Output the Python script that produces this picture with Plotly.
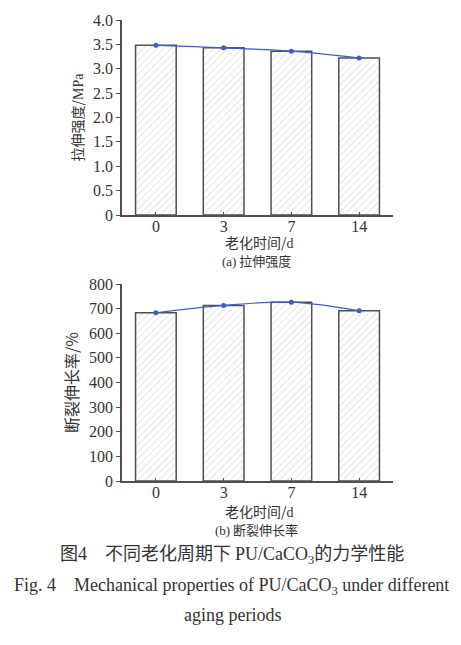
import plotly.graph_objects as go

# Data
aging_days = ["0", "3", "7", "14"]
tensile_strength = [3.48, 3.43, 3.36, 3.22]
elongation = [683, 713, 726, 691]

W, H = 461, 645
SERIF = "Liberation Serif"
CJK = "Noto Sans CJK SC"

def py(px):
    return 1 - px / H

def ser(t):
    return f"<span style='font-family:{SERIF}'>{t}</span>"

fig = go.Figure()

bar_style = dict(
    marker=dict(color="white",
                line=dict(color="#505050", width=1.5),
                pattern=dict(shape="/", fgcolor="#a0a0a0", bgcolor="white", size=5, solidity=0.15)),
    width=0.6, showlegend=False,
)
line_style = dict(mode="lines+markers",
                  line=dict(color="#3a60c4", width=1.2, shape="spline"),
                  marker=dict(color="#3a60c4", size=5), showlegend=False)

fig.add_trace(go.Bar(x=aging_days, y=tensile_strength, xaxis="x", yaxis="y", **bar_style))
fig.add_trace(go.Scatter(x=aging_days, y=tensile_strength, xaxis="x", yaxis="y", **line_style))
fig.add_trace(go.Bar(x=aging_days, y=elongation, xaxis="x2", yaxis="y2", **bar_style))
fig.add_trace(go.Scatter(x=aging_days, y=elongation, xaxis="x2", yaxis="y2", **line_style))

xdom = [122 / W, 393 / W]
common_x = dict(type="category", range=[-0.5, 3.5], showline=True, linecolor="#505050", linewidth=1.5,
                ticks="inside", ticklen=3, tickcolor="#505050", showgrid=False, zeroline=False,
                automargin=False, ticklabelstandoff=-4,
                tickfont=dict(family=SERIF, size=16, color="#333"), domain=xdom)
common_y = dict(showline=True, linecolor="#505050", linewidth=1.5, ticks="outside", ticklen=4,
                tickcolor="#505050", showgrid=False, zeroline=False, automargin=False,
                tickfont=dict(family=SERIF, size=16, color="#333"))

fig.update_layout(
    width=W, height=H, margin=dict(l=0, r=0, t=0, b=0),
    paper_bgcolor="white", plot_bgcolor="white", bargap=0.4,
    xaxis=dict(common_x, anchor="y"),
    yaxis=dict(common_y, anchor="x", domain=[py(215), py(20)], range=[0, 4.0],
               tickvals=[0, 0.5, 1, 1.5, 2, 2.5, 3, 3.5, 4],
               ticktext=["0", "0.5", "1.0", "1.5", "2.0", "2.5", "3.0", "3.5", "4.0"],
               title=dict(text="拉伸强度/" + ser("MPa"), font=dict(family=CJK, size=14, color="#333"), standoff=6)),
    xaxis2=dict(common_x, anchor="y2"),
    yaxis2=dict(common_y, anchor="x2", domain=[py(481), py(284)], range=[0, 800], dtick=100,
                title=dict(text="断裂伸长率/%", font=dict(family=CJK, size=16, color="#333"), standoff=6)),
)

anns = [
    ("老化时间/" + ser("d"), 259, 242, 14, CJK),
    (ser("(a)") + " 拉伸强度", 256, 260, 13, CJK),
    ("老化时间/" + ser("d"), 259, 511, 14, CJK),
    (ser("(b)") + " 断裂伸长率", 256, 529, 13, CJK),
    ("图" + ser("4") + "　不同老化周期下 " + ser("PU/CaCO<sub>3</sub>") + "的力学性能", 232, 553, 18, CJK),
    ("Fig. 4　Mechanical properties of PU/CaCO<sub>3</sub> under different", 231, 586, 18, SERIF),
    ("aging periods", 232, 615, 18, SERIF),
]
for text, x, y, size, fam in anns:
    fig.add_annotation(text=text, x=x / W, y=py(y), xref="paper", yref="paper",
                       showarrow=False, xanchor="center", yanchor="middle",
                       font=dict(family=fam, size=size, color="#333"))

fig.write_html("out.html", config={"displayModeBar": False},
               post_script="document.body.style.margin='0';document.body.style.overflow='hidden';")
